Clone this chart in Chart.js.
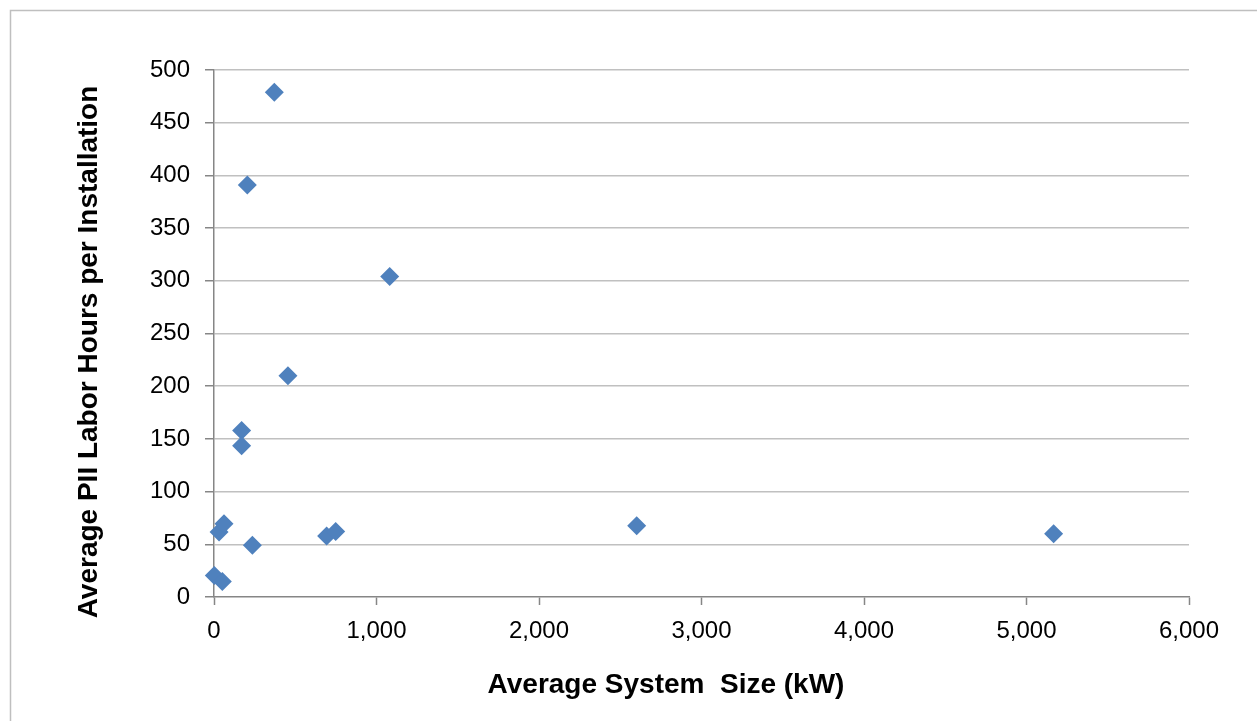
<!DOCTYPE html>
<html><head><meta charset="utf-8">
<script src="https://cdn.jsdelivr.net/npm/chart.js@4/dist/chart.umd.min.js"></script>
<style>html,body{margin:0;padding:0;background:#fff;overflow:hidden}
#wrap{position:relative;width:1257px;height:721px}</style>
</head><body><div id="wrap"><canvas id="c" width="1257" height="721"></canvas></div>
<script>
// Average system size (kW)
const systemSizeKW = [2, 31, 51, 61.5, 170, 170, 205, 236, 371, 455, 693, 749, 1081, 2601, 5167];
// Average PII labor hours per installation
const laborHours = [20.5, 61.6, 14.8, 69.5, 158, 143.5, 391, 49, 479, 210, 57.8, 62.2, 304, 67.6, 60];
const xAxisTitle = 'Average System  Size (kW)';
const yAxisTitle = 'Average PII Labor Hours per Installation';
const xMin = 0, xMax = 6000, xStep = 1000;
const yMin = 0, yMax = 500, yStep = 50;

const points = systemSizeKW.map((x, i) => ({x: x, y: laborHours[i]}));
const FONT = "'Liberation Sans', Arial, sans-serif";

const decor = {
  id: 'decor',
  beforeDraw(chart) {
    const ctx = chart.ctx;
    ctx.save();
    ctx.fillStyle = '#fff';
    ctx.fillRect(0, 0, chart.width, chart.height);
    ctx.strokeStyle = '#bfbfbf';
    ctx.lineWidth = 1.5;
    ctx.strokeRect(10.5, 10.5, 1400, 900);
    ctx.restore();
  },
  afterDraw(chart) {
    const ctx = chart.ctx;
    ctx.save();
    ctx.fillStyle = '#000';
    ctx.font = 'bold 28px ' + FONT;
    ctx.textAlign = 'center';
    ctx.textBaseline = 'alphabetic';
    ctx.fillText(xAxisTitle, 666, 693);
    ctx.translate(97, 352);
    ctx.rotate(-Math.PI / 2);
    ctx.fillText(yAxisTitle, 0, 0);
    ctx.restore();
  }
};

new Chart(document.getElementById('c'), {
  type: 'scatter',
  data: { datasets: [{
    data: points,
    pointStyle: 'rectRot',
    pointRadius: 9.5,
    pointHoverRadius: 9.5,
    backgroundColor: '#4F81BD',
    borderWidth: 0,
    clip: false
  }]},
  options: {
    responsive: false,
    animation: false,
    devicePixelRatio: 1,
    layout: { padding: { top: 70, right: 68, left: 0, bottom: 0 } },
    plugins: { legend: { display: false }, tooltip: { enabled: false } },
    scales: {
      x: {
        type: 'linear', min: xMin, max: xMax,
        ticks: { stepSize: xStep, color: '#000', padding: 12, maxRotation: 0,
          font: { family: FONT, size: 24 },
          callback: v => v.toLocaleString('en-US') },
        grid: { drawOnChartArea: false, drawTicks: true, tickLength: 8, tickColor: '#868686', tickWidth: 1.5 },
        border: { color: '#868686', width: 1.5 },
        afterFit: s => { s.height = 124; }
      },
      y: {
        type: 'linear', min: yMin, max: yMax,
        ticks: { stepSize: yStep, color: '#000', padding: 15,
          font: { family: FONT, size: 24 } },
        grid: { color: c => c.tick && c.tick.value === 0 ? 'rgba(0,0,0,0)' : '#c0c0c0',
          lineWidth: 1.5, tickLength: 9, tickColor: '#868686', tickWidth: 1.5 },
        border: { color: '#868686', width: 1.5 },
        afterFit: s => { s.width = 214; }
      }
    }
  },
  plugins: [decor]
});
</script></body></html>
